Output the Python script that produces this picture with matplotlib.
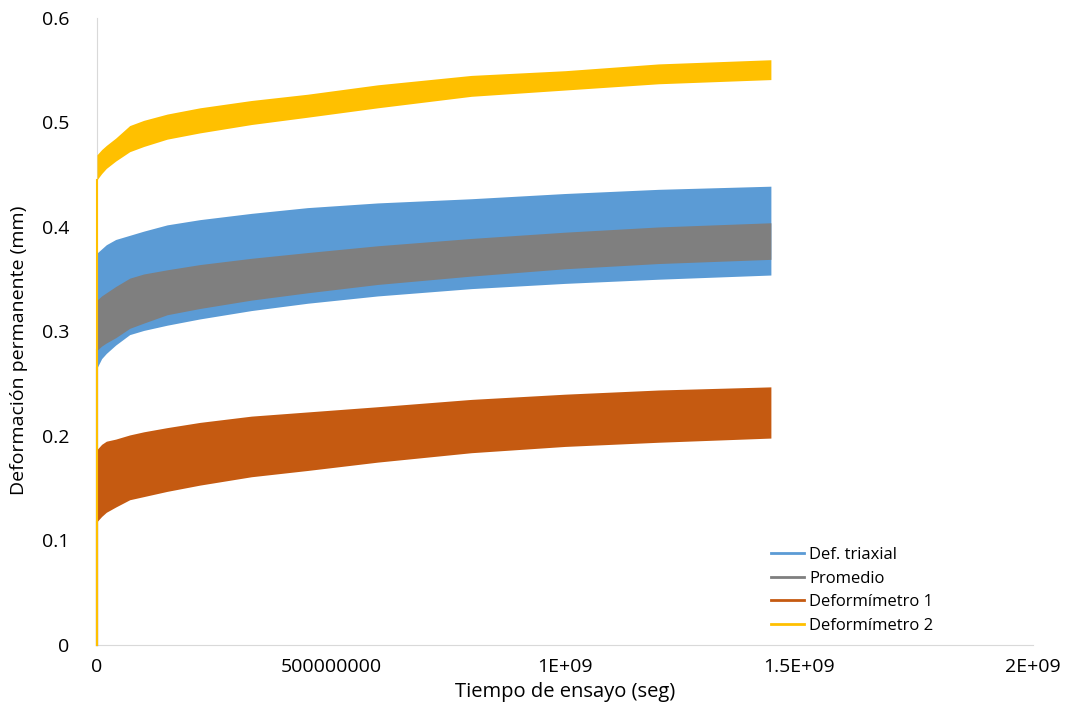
import matplotlib.pyplot as plt
from matplotlib.lines import Line2D

# time axis (s), first point is the test start at zero deformation
tiempo = [0, 0, 1e7, 2e7, 4e7, 7e7, 1e8, 1.5e8, 2.2e8, 3.3e8, 4.5e8, 6e8, 8e8, 1.0e9, 1.2e9, 1.44e9]

# envelopes (min / max of the cyclic signal), mm
triaxial_sup = [0, 0.375, 0.379, 0.383, 0.388, 0.392, 0.396, 0.402, 0.407, 0.413, 0.4185, 0.423, 0.427, 0.432, 0.436, 0.439]
triaxial_inf = [0, 0.265, 0.274, 0.279, 0.287, 0.297, 0.301, 0.306, 0.312, 0.320, 0.327, 0.334, 0.341, 0.346, 0.350, 0.354]
promedio_sup = [0, 0.330, 0.334, 0.337, 0.343, 0.351, 0.355, 0.359, 0.364, 0.370, 0.3755, 0.382, 0.389, 0.395, 0.400, 0.404]
promedio_inf = [0, 0.282, 0.286, 0.289, 0.294, 0.303, 0.308, 0.316, 0.322, 0.330, 0.337, 0.345, 0.353, 0.360, 0.365, 0.369]
def1_sup = [0, 0.187, 0.192, 0.195, 0.197, 0.201, 0.204, 0.208, 0.213, 0.219, 0.223, 0.228, 0.235, 0.240, 0.244, 0.247]
def1_inf = [0, 0.118, 0.123, 0.127, 0.132, 0.139, 0.142, 0.147, 0.153, 0.161, 0.167, 0.175, 0.184, 0.190, 0.194, 0.198]
def2_sup = [0, 0.469, 0.474, 0.478, 0.485, 0.497, 0.502, 0.508, 0.514, 0.521, 0.527, 0.536, 0.545, 0.5495, 0.556, 0.560]
def2_inf = [0, 0.445, 0.451, 0.456, 0.463, 0.472, 0.477, 0.484, 0.490, 0.498, 0.505, 0.514, 0.525, 0.531, 0.537, 0.541]

series = [
    ("Def. triaxial", triaxial_inf, triaxial_sup, "#5B9BD5"),
    ("Promedio", promedio_inf, promedio_sup, "#7F7F7F"),
    ("Deformímetro 1", def1_inf, def1_sup, "#C55A11"),
    ("Deformímetro 2", def2_inf, def2_sup, "#FFC000"),
]

x_ticks = [0, 5e8, 1e9, 1.5e9, 2e9]
x_labels = ["0", "500000000", "1E+09", "1.5E+09", "2E+09"]
y_ticks = [0, 0.1, 0.2, 0.3, 0.4, 0.5, 0.6]
y_labels = ["0", "0.1", "0.2", "0.3", "0.4", "0.5", "0.6"]

plt.rcParams['font.family'] = ['Open Sans', 'DejaVu Sans']

fig = plt.figure(figsize=(10.69, 7.17), dpi=100)
ax = fig.add_axes([0.0907, 0.1004, 0.8756, 0.8746])

handles = []
for i, (name, low, high, color) in enumerate(series):
    ax.fill_between(tiempo, low, high, color=color, linewidth=0, zorder=2 + i)
    # vertical jump at t = 0
    ax.plot(tiempo[:2], low[:2], color=color, linewidth=1.5, clip_on=False, zorder=3 + i)
    handles.append(Line2D([0], [0], color=color, linewidth=2, label=name))

ax.set_xlim(0, 2e9)
ax.set_ylim(0, 0.6)
ax.set_xticks(x_ticks)
ax.set_xticklabels(x_labels)
ax.set_yticks(y_ticks)
ax.set_yticklabels(y_labels)
ax.tick_params(length=0, labelsize=14, pad=9)
ax.tick_params(axis='y', pad=20)

for side in ['top', 'right']:
    ax.spines[side].set_visible(False)
for side in ['left', 'bottom']:
    ax.spines[side].set_color('#D9D9D9')
    ax.spines[side].set_zorder(1)

ax.set_xlabel("Tiempo de ensayo (seg)", fontsize=14.5, labelpad=5)
ax.set_ylabel("Deformación permanente (mm)", fontsize=14)
ax.yaxis.set_label_coords(-0.0735, 0.47)

ax.legend(handles=handles, loc='upper left', bbox_to_anchor=(0.707, 0.258),
          bbox_transform=fig.transFigure, frameon=False, fontsize=12,
          handlelength=2.0, handletextpad=0.3, labelspacing=0.45)

fig.savefig("out.png", dpi=100)
